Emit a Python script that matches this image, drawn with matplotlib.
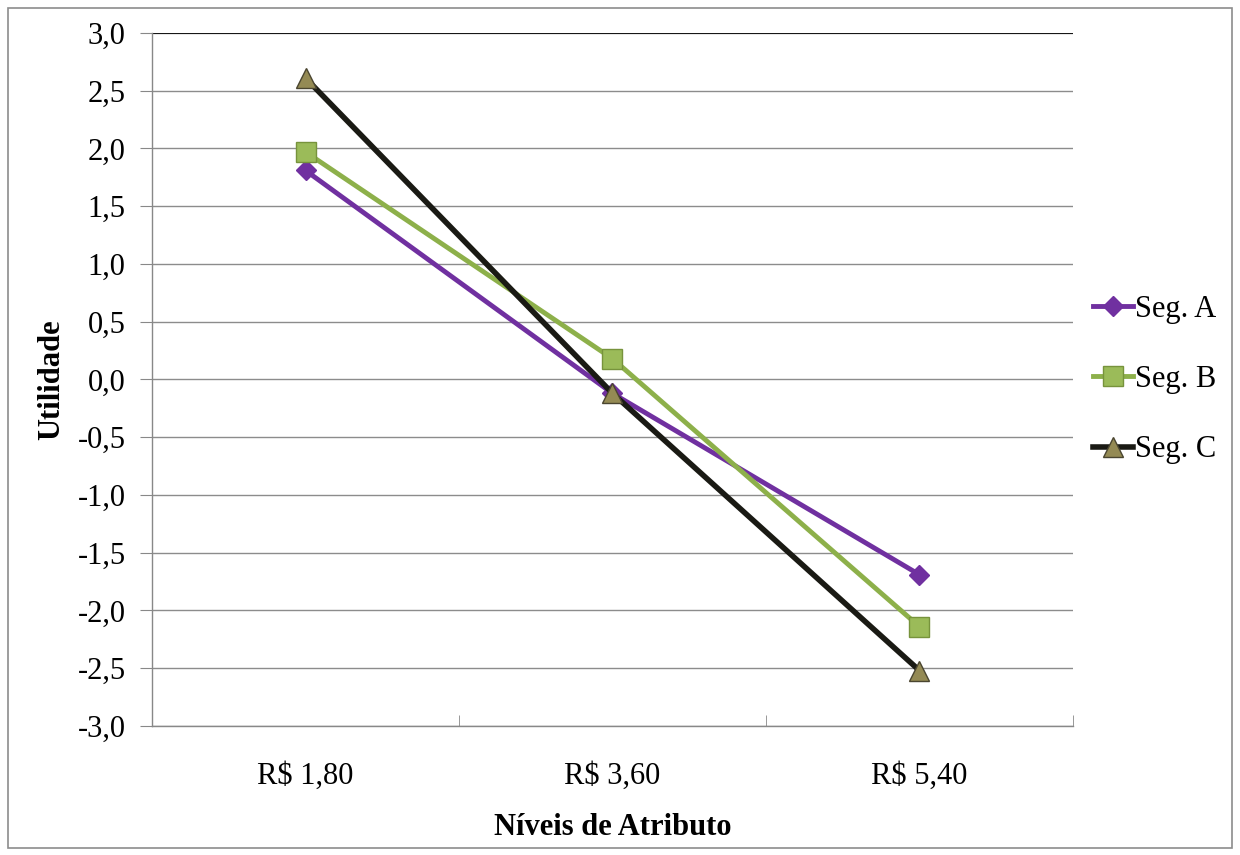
import numpy as np
import matplotlib.pyplot as plt

plt.rcParams['font.family'] = ['Liberation Serif', 'DejaVu Serif']

niveis = ['R$ 1,80', 'R$ 3,60', 'R$ 5,40']
seg_a = [1.81, -0.12, -1.69]
seg_b = [1.97, 0.18, -2.14]
seg_c = [2.61, -0.12, -2.52]
y_ticks = np.arange(-3.0, 3.01, 0.5)

fig = plt.figure(figsize=(12.4, 8.55), dpi=100)
ax = fig.add_axes([0.1226, 0.1509, 0.7427, 0.8105])

x = np.arange(len(niveis))
ax.plot(x, seg_a, color='#7030A0', lw=3.5, marker='D', ms=10,
        mfc='#7030A0', mec='#7030A0', label='Seg. A', zorder=3)
ax.plot(x, seg_b, color='#8DB04A', lw=3.5, marker='s', ms=14,
        mfc='#9BBB59', mec='#77933C', label='Seg. B', zorder=4)
ax.plot(x, seg_c, color='#1A1A14', lw=4, marker='^', ms=14,
        mfc='#948A54', mec='#4A4530', label='Seg. C', zorder=5)

ax.set_xlim(-0.5, 2.5)
ax.set_ylim(-3.0, 3.0)
ax.set_yticks(y_ticks)
ax.set_yticklabels([f'{v:.1f}'.replace('.', ',') for v in y_ticks], fontsize=22)
ax.set_xticks(x)
ax.set_xticklabels(niveis, fontsize=22)
# tick marks between the categories
ax.set_xticks(np.arange(-0.5, 2.6, 1), minor=True)
ax.tick_params(axis='x', which='major', length=0, pad=26)
ax.tick_params(axis='x', which='minor', length=8, direction='in', color='#888888')
ax.tick_params(axis='y', length=9, direction='out', color='#888888', pad=10)

ax.grid(axis='y', color='#8C8C8C', lw=1)
ax.set_axisbelow(True)
for s in ['top', 'right']:
    ax.spines[s].set_visible(False)
ax.axhline(3.0, color='#000000', lw=1.2, zorder=1)
for s in ['left', 'bottom']:
    ax.spines[s].set_color('#888888')
    ax.spines[s].set_linewidth(1)

ax.set_xlabel('Níveis de Atributo', fontsize=22, fontweight='bold', labelpad=16)
ax.set_ylabel('Utilidade', fontsize=22, fontweight='bold', labelpad=8)

ax.legend(loc='center left', bbox_to_anchor=(1.009, 0.5), frameon=False,
          fontsize=22, labelspacing=1.35, handlelength=1.3, handletextpad=0.05,
          borderaxespad=0)

# outer border of the chart
fig.patches.append(plt.Rectangle((8 / 1240, 7 / 855), 1224 / 1240, 840 / 855,
                                 transform=fig.transFigure, fill=False,
                                 ec='#8C8C8C', lw=1.2))

fig.savefig('out.png', dpi=100)
